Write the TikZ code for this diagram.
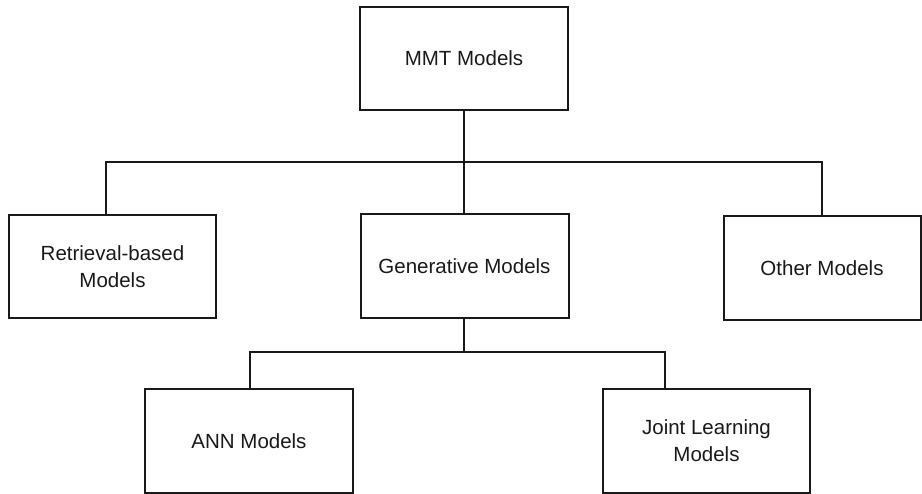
\documentclass[tikz,border=0pt]{standalone}
\usepackage{fontspec}
\setmainfont{Liberation Sans}
\begin{document}
\begin{tikzpicture}[x=1pt,y=-1pt,
  box/.style={draw=black!90, line width=2pt, fill=white, inner sep=0pt, align=center,
    text=black!90, font=\fontsize{20.5}{26.7}\selectfont},
  link/.style={draw=black!90, line width=2pt}]
\useasboundingbox[fill=white] (0,0) rectangle (922,494);
\node[box, minimum width=208pt, minimum height=103pt] (mmt) at (464,58.5) {MMT Models};
\node[box, minimum width=207pt, minimum height=103pt] (ret) at (112.5,266.5) {Retrieval-based\\Models};
\node[box, minimum width=208pt, minimum height=104pt] (gen) at (464.5,266) {Generative Models};
\node[box, minimum width=197pt, minimum height=104pt] (oth) at (822,268) {Other Models};
\node[box, minimum width=208pt, minimum height=104pt] (ann) at (249,441) {ANN Models};
\node[box, minimum width=207pt, minimum height=104pt] (jnt) at (706.5,441) {Joint Learning\\Models};
\coordinate (h1L) at (105.5,162);
\coordinate (h1R) at (822,162);
\coordinate (h2L) at (250,352.5);
\coordinate (h2R) at (665,352.5);
\draw[link] (mmt.south) -- (mmt.south |- h1L);
\draw[link] (ret.north -| h1L) -- (h1L) -- (h1R) -- (oth.north -| h1R);
\draw[link] (gen.north -| mmt.south) -- (mmt.south |- h1L);
\draw[link] (gen.south -| mmt.south) -- (mmt.south |- h2L);
\draw[link] (ann.north -| h2L) -- (h2L) -- (h2R) -- (jnt.north -| h2R);
\end{tikzpicture}
\end{document}
